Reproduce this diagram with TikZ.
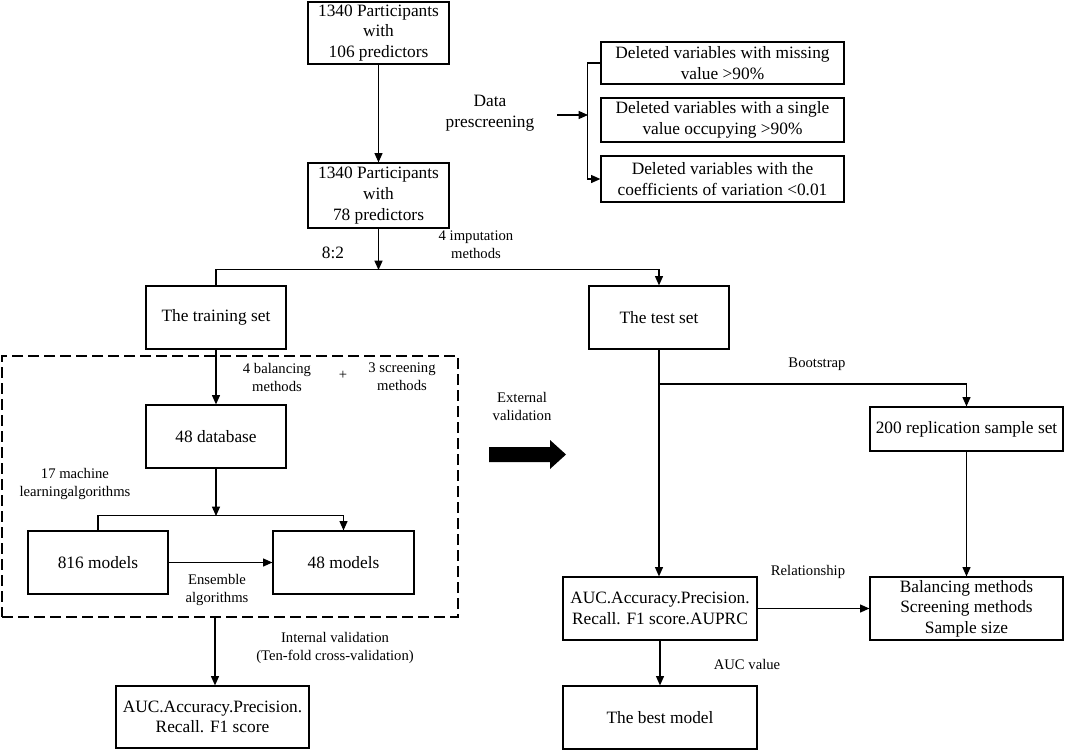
\documentclass[tikz,border=0pt]{standalone}
\usepackage{fontspec}
\setmainfont{Liberation Serif}
\usetikzlibrary{arrows.meta}
\begin{document}
\begin{tikzpicture}[x=0.75pt,y=-0.75pt,
  box/.style={draw, line width=0.9pt, inner sep=0pt, align=center, font=\fontsize{13}{15.5}\selectfont},
  sz/.style 2 args={minimum width=#1*0.75pt, minimum height=#2*0.75pt},
  lbl/.style={align=center, inner sep=0pt, font=\fontsize{11}{13.5}\selectfont},
  big/.style={align=center, inner sep=0pt, font=\fontsize{13}{15.5}\selectfont},
  arr/.style={line width=0.9pt, -{Triangle[length=7pt,width=6pt]}},
  ln/.style={line width=0.9pt}]
\useasboundingbox (0,0) rectangle (1065,751);

% top
\node[box, sz={141}{62}] (b1) at (378.5,33) {1340 Participants\\with\\106 predictors};
\node[box, sz={141}{65}] (b2) at (378.5,195.5) {1340 Participants\\with\\78 predictors};
\draw[arr] (b1.south) -- (b2.north);

% prescreening
\node[big] (dp) at (490,113.5) {Data\\prescreening};
\node[box, sz={243}{42}] (p1) at (722.5,63) {Deleted variables with missing\\value >90\%};
\node[box, sz={243}{44}] (p2) at (722.5,120) {Deleted variables with a single\\value occupying >90\%};
\node[box, sz={243}{46}] (p3) at (722.5,179) {Deleted variables with the\\coefficients of variation <0.01};
\coordinate (dpa) at (557,115);
\coordinate (brk) at (588,115);
\draw[arr] (dpa) -- (brk);
\draw[arr] (p1.west) -- ++(-13,0) |- (p3.west);

% split
\node[box, sz={140}{63}] (train) at (216,317.5) {The training set};
\node[box, sz={140}{63}] (test) at (659,317.5) {The test set};
\coordinate (split) at (378.5,270);
\draw[arr] (b2.south) -- (split);
\draw[arr] (train.north) -- ++(0,-16) -| (test.north);
\node[big] (r82) at (333,253) {8:2};
\node[lbl] (imp) at (476,245) {4 imputation\\methods};

% dashed group
\node[draw, line width=0.9pt, dash pattern=on 8pt off 4pt, sz={456}{261}, inner sep=0pt] (grp) at (230,486.5) {};
\node[box, sz={140}{63}] (db) at (216,436.5) {48 database};
\draw[arr] (train.south) -- (db.north);
\node[lbl] (bal4) at (277,377) {4 balancing\\methods};
\node[lbl] (plus) at (343,375) {+};
\node[lbl] (scr3) at (402,377) {3 screening\\methods};
\coordinate (split2) at (216,516);
\draw[arr] (db.south) -- (split2);
\node[box, sz={140}{63}] (m816) at (98,562.5) {816 models};
\node[box, sz={141}{63}] (m48) at (343.5,562.5) {48 models};
\draw[arr] (m816.north) -- ++(0,-15) -| (m48.north);
\draw[arr] (m816.east) -- (m48.west);
\node[lbl] (ens) at (217,589.5) {Ensemble\\algorithms};
\node[lbl] (ml17) at (75,484) {17 machine\\learningalgorithms};

% internal validation
\node[box, sz={193}{62}] (iauc) at (212.5,717) {AUC.Accuracy.Precision.\\Recall. F1 score};
\coordinate (ix) at (215,0);
\draw[arr] (grp.south -| ix) -- (iauc.north -| ix);
\node[lbl] (iv) at (335,648) {Internal validation\\(Ten-fold cross-validation)};

% external validation
\node[lbl] (ext) at (522,406) {External\\validation};
\fill (489,447) -- (550,447) -- (550,440) -- (566,454.5) -- (550,469) -- (550,462) -- (489,462) -- cycle;

% right column
\node[box, sz={194}{63}] (eauc) at (660,608.5) {AUC.Accuracy.Precision.\\Recall. F1 score.AUPRC};
\draw[arr] (test.south) -- (test.south |- eauc.north);
\coordinate (bs) at (659,384);
\node[box, sz={193}{44}] (rep) at (966.5,429) {200 replication sample set};
\draw[arr] (bs) -| (rep.north);
\node[lbl] (boot) at (817,364) {Bootstrap};
\node[box, sz={193}{63}] (bal) at (966.5,608.5) {Balancing methods\\Screening methods\\Sample size};
\draw[arr] (rep.south) -- (bal.north);
\draw[arr] (eauc.east) -- (bal.west);
\node[lbl] (rel) at (808,572) {Relationship};
\node[box, sz={194}{63}] (best) at (660,717.5) {The best model};
\draw[arr] (eauc.south) -- (best.north);
\node[lbl] (aucv) at (747,664) {AUC value};
\end{tikzpicture}
\end{document}
